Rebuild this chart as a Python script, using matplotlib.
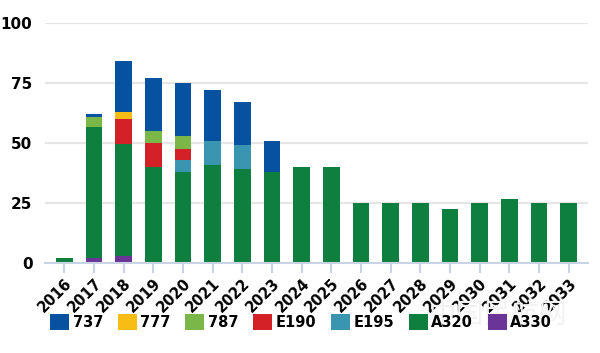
import numpy as np
from matplotlib import pyplot as plt
from matplotlib.patches import Patch

years = [str(y) for y in range(2016, 2034)]

# deliveries by type (stacked bottom -> top)
a330 = [0, 2, 3, 0, 0, 0, 0, 0, 0, 0, 0, 0, 0, 0, 0, 0, 0, 0]
a320 = [2, 54.5, 46.5, 40, 38, 41, 39, 38, 40, 40, 25, 25, 25, 22.5, 25, 26.7, 25, 25]
e195 = [0, 0, 0, 0, 5, 10, 10, 0, 0, 0, 0, 0, 0, 0, 0, 0, 0, 0]
e190 = [0, 0, 10.5, 10, 4.5, 0, 0, 0, 0, 0, 0, 0, 0, 0, 0, 0, 0, 0]
b787 = [0, 4.5, 0, 5, 5.5, 0, 0, 0, 0, 0, 0, 0, 0, 0, 0, 0, 0, 0]
b777 = [0, 0, 3, 0, 0, 0, 0, 0, 0, 0, 0, 0, 0, 0, 0, 0, 0, 0]
b737 = [0, 1, 21, 22, 22, 21, 18, 13, 0, 0, 0, 0, 0, 0, 0, 0, 0, 0]

series = [
    ('A330', a330, '#6a3597'),
    ('A320', a320, '#0f7f3f'),
    ('E195', e195, '#3a95b0'),
    ('E190', e190, '#d42027'),
    ('787', b787, '#7ab648'),
    ('777', b777, '#f7bd14'),
    ('737', b737, '#0651a0'),
]
legend_order = ['737', '777', '787', 'E190', 'E195', 'A320', 'A330']

FONT = ['DejaVu Sans']

def main():
    fig = plt.figure(figsize=(6.0, 3.53), dpi=100)
    ax = fig.add_axes([0.075, 0.255, 0.905, 0.68])

    x = np.arange(len(years))
    bottom = np.zeros(len(years))
    for name, vals, col in series:
        vals = np.array(vals, dtype=float)
        ax.bar(x, vals, 0.57, bottom=bottom, color=col, zorder=3)
        bottom += vals

    ax.set_ylim(0, 100)
    ax.set_xlim(-0.65, len(years) - 0.35)
    ax.set_yticks([0, 25, 50, 75, 100])
    ax.yaxis.grid(True, color='#e6e6e6', linewidth=1.6, zorder=0)
    ax.set_axisbelow(True)
    for s in ['top', 'right', 'left']:
        ax.spines[s].set_visible(False)
    ax.spines['bottom'].set_color('#c8d4e3')
    ax.spines['bottom'].set_linewidth(1.5)
    ax.spines['bottom'].set_zorder(4)

    ax.set_xticks(x)
    ax.set_xticklabels(years, rotation=45, ha='right', va='top', rotation_mode='anchor',
                       family=FONT, fontweight='bold', fontsize=10.5)
    ax.tick_params(axis='x', length=7, width=1.5, color='#c8d4e3', pad=2)
    ax.tick_params(axis='y', length=0, pad=9)
    for lab in ax.get_yticklabels():
        lab.set_family(FONT)
        lab.set_fontweight('bold')
        lab.set_fontsize(11)

    colors = {n: c for n, _, c in series}
    handles = [Patch(facecolor=colors[n], label=n) for n in legend_order]
    fig.legend(handles=handles, loc='center', bbox_to_anchor=(0.502, 0.087),
               ncol=7, frameon=False, handlelength=1.3, handleheight=1.3,
               handletextpad=0.25, columnspacing=1.0,
               prop={'family': FONT, 'weight': 'bold', 'size': 10.5})

    # faint site watermark
    fig.text(0.83, 0.107, '中国民航网', family=['Noto Sans CJK SC', 'DejaVu Sans'],
             fontsize=20, color='#f2f2f2', ha='center', va='center', zorder=0)

    fig.savefig('out.png', dpi=100)

main()
